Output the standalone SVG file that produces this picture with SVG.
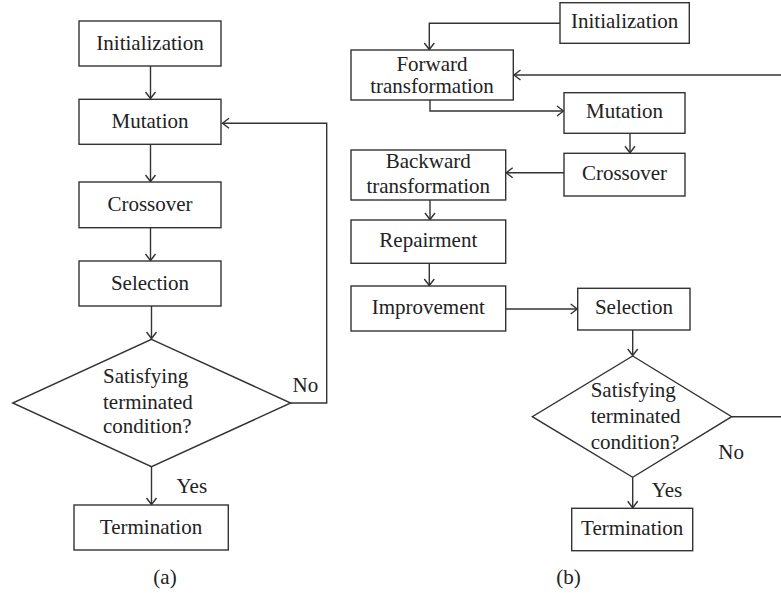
<svg xmlns="http://www.w3.org/2000/svg" width="781" height="593" viewBox="0 0 781 593">
<style>
.box{fill:#fff;stroke:#333;stroke-width:1.4}
.ln{fill:none;stroke:#333;stroke-width:1.4}
.t{font-family:"Liberation Serif","Times New Roman",serif;font-size:21px;fill:#222}
.c{text-anchor:middle}
</style>
<defs>
<marker id="ah" markerUnits="userSpaceOnUse" markerWidth="14" markerHeight="14" viewBox="-10 -7 14 14" refX="0" refY="0" orient="auto">
<path d="M-6.5,-5 L0,0 L-6.5,5" fill="none" stroke="#333" stroke-width="1.4"/>
</marker>
</defs>
<rect width="781" height="593" fill="#fff"/>
<g id="connectors">
<path class="ln" d="M150.5,66 V98.5" marker-end="url(#ah)"/>
<path class="ln" d="M150.5,144.3 V181.5" marker-end="url(#ah)"/>
<path class="ln" d="M150.5,227.7 V260.5" marker-end="url(#ah)"/>
<path class="ln" d="M151.5,306 V338.5" marker-end="url(#ah)"/>
<path class="ln" d="M290.7,403 H326.7 V123.3 H222.5" marker-end="url(#ah)"/>
<path class="ln" d="M151.5,466.7 V504.5" marker-end="url(#ah)"/>
<path class="ln" d="M560,23.3 H429.3 V49.5" marker-end="url(#ah)"/>
<path class="ln" d="M781,75 H514" marker-end="url(#ah)"/>
<path class="ln" d="M430,100 V111 H563.5" marker-end="url(#ah)"/>
<path class="ln" d="M630,133.3 V152.8" marker-end="url(#ah)"/>
<path class="ln" d="M564,172.7 H506.2" marker-end="url(#ah)"/>
<path class="ln" d="M430,200 V219.5" marker-end="url(#ah)"/>
<path class="ln" d="M429.3,263.3 V285.5" marker-end="url(#ah)"/>
<path class="ln" d="M505.7,309 H577.2" marker-end="url(#ah)"/>
<path class="ln" d="M632.7,330 V355.5" marker-end="url(#ah)"/>
<path class="ln" d="M731.7,416.7 H781"/>
<path class="ln" d="M632.7,477.3 V507.8" marker-end="url(#ah)"/>
</g>
<g id="a-init"><rect class="box" x="79" y="21" width="142" height="45"/><text class="t c" x="150" y="49.5">Initialization</text></g>
<g id="a-mutation"><rect class="box" x="79" y="99.3" width="142" height="45"/><text class="t c" x="150" y="127.5">Mutation</text></g>
<g id="a-crossover"><rect class="box" x="79" y="182" width="142" height="45.7"/><text class="t c" x="150" y="210.5">Crossover</text></g>
<g id="a-selection"><rect class="box" x="79" y="261" width="142" height="45"/><text class="t c" x="150" y="289.5">Selection</text></g>
<g id="a-decision"><path class="box" d="M151.5,339.3 L290.7,403 L151.5,466.7 L12.7,403 Z"/>
<text class="t" x="103" y="382.7">Satisfying</text><text class="t" x="103" y="408.5">terminated</text><text class="t" x="103" y="433.3">condition?</text></g>
<g id="a-termination"><rect class="box" x="74" y="505" width="154.3" height="45"/><text class="t c" x="151" y="533.5">Termination</text></g>
<text class="t" x="292.5" y="391.5">No</text>
<text class="t" x="176.5" y="493.3">Yes</text>
<text class="t c" x="165" y="584">(a)</text>
<g id="b-init"><rect class="box" x="560" y="2.7" width="129.3" height="40.6"/><text class="t c" x="624.7" y="28.3">Initialization</text></g>
<g id="b-forward"><rect class="box" x="351" y="50" width="162.3" height="50"/><text class="t c" x="432" y="71">Forward</text><text class="t c" x="432" y="92.7">transformation</text></g>
<g id="b-mutation"><rect class="box" x="564" y="92.7" width="121" height="40.6"/><text class="t c" x="624.5" y="118.3">Mutation</text></g>
<g id="b-crossover"><rect class="box" x="564" y="153.3" width="121" height="42.7"/><text class="t c" x="624.5" y="180">Crossover</text></g>
<g id="b-backward"><rect class="box" x="351" y="150" width="154.7" height="50"/><text class="t c" x="428.3" y="168.3">Backward</text><text class="t c" x="428.3" y="193">transformation</text></g>
<g id="b-repairment"><rect class="box" x="351" y="220" width="154.7" height="43.3"/><text class="t c" x="428.3" y="246.7">Repairment</text></g>
<g id="b-improvement"><rect class="box" x="351" y="286" width="154.7" height="45"/><text class="t c" x="428.3" y="314">Improvement</text></g>
<g id="b-selection"><rect class="box" x="577.7" y="288.3" width="112.3" height="41.7"/><text class="t c" x="634" y="314">Selection</text></g>
<g id="b-decision"><path class="box" d="M632.7,356 L731.7,416.7 L632.7,477.3 L532.3,416.7 Z"/>
<text class="t" x="590.7" y="396.7">Satisfying</text><text class="t" x="590.7" y="422.7">terminated</text><text class="t" x="590.7" y="449.3">condition?</text></g>
<g id="b-termination"><rect class="box" x="571.7" y="508.3" width="121" height="42.4"/><text class="t c" x="632.2" y="535">Termination</text></g>
<text class="t" x="718.3" y="459.3">No</text>
<text class="t" x="651.7" y="496.7">Yes</text>
<text class="t c" x="568.5" y="584">(b)</text>
</svg>
